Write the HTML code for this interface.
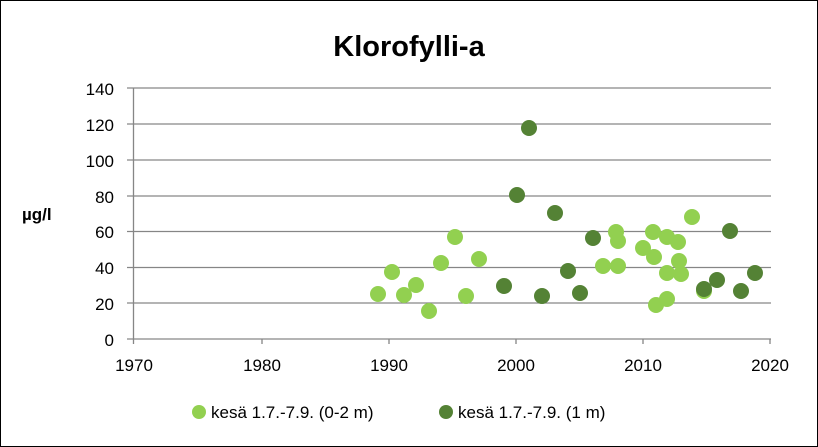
<!DOCTYPE html>
<html><head><style>
body{margin:0;background:#fff;}
svg{display:block;font-family:"Liberation Sans",Arial,sans-serif;}
</style></head><body>
<svg width="818" height="447" viewBox="0 0 818 447">
<rect x="0.5" y="0.5" width="817" height="446" fill="#fff" stroke="#000" stroke-width="1"/>
<text x="409" y="56" font-size="29" font-weight="bold" text-anchor="middle" fill="#000">Klorofylli-a</text>
<g stroke="#868686" stroke-width="1.3">
<line x1="127" x2="771" y1="88" y2="88"/>
<line x1="127" x2="771" y1="124" y2="124"/>
<line x1="127" x2="771" y1="160" y2="160"/>
<line x1="127" x2="771" y1="196" y2="196"/>
<line x1="127" x2="771" y1="231.5" y2="231.5"/>
<line x1="127" x2="771" y1="267.5" y2="267.5"/>
<line x1="127" x2="771" y1="303" y2="303"/>
<line x1="127" x2="771" y1="339" y2="339"/>
<line x1="133.5" x2="133.5" y1="88" y2="344"/>
<line x1="262" x2="262" y1="339" y2="344"/><line x1="389" x2="389" y1="339" y2="344"/><line x1="516" x2="516" y1="339" y2="344"/><line x1="643" x2="643" y1="339" y2="344"/><line x1="770" x2="770" y1="339" y2="344"/>
</g>
<g font-size="17" fill="#000" text-anchor="end">
<text x="114" y="95">140</text><text x="114" y="131">120</text><text x="114" y="167">100</text><text x="114" y="203">80</text><text x="114" y="238">60</text><text x="114" y="274">40</text><text x="114" y="310">20</text><text x="114" y="346">0</text>
</g>
<g font-size="17" fill="#000" text-anchor="middle">
<text x="134" y="371">1970</text><text x="262" y="371">1980</text><text x="389" y="371">1990</text><text x="516" y="371">2000</text><text x="643" y="371">2010</text><text x="770" y="371">2020</text>
</g>
<text x="22" y="220" font-size="17" font-weight="bold">µg/l</text>
<g fill="#92d050">
<circle cx="378" cy="294" r="8"/><circle cx="392" cy="272" r="8"/><circle cx="404" cy="295" r="8"/><circle cx="416" cy="285" r="8"/><circle cx="429" cy="311" r="8"/><circle cx="441" cy="263" r="8"/><circle cx="455" cy="237" r="8"/><circle cx="466" cy="296" r="8"/><circle cx="479" cy="259" r="8"/>
<circle cx="616" cy="232" r="8"/><circle cx="618" cy="241" r="8"/><circle cx="603" cy="266" r="8"/><circle cx="618" cy="266" r="8"/><circle cx="643" cy="248" r="8"/><circle cx="653" cy="232" r="8"/><circle cx="654" cy="257" r="8"/><circle cx="667" cy="237" r="8"/><circle cx="678" cy="242" r="8"/><circle cx="679" cy="261" r="8"/><circle cx="667" cy="273" r="8"/><circle cx="681" cy="274" r="8"/><circle cx="656" cy="305" r="8"/><circle cx="667" cy="299" r="8"/><circle cx="692" cy="217" r="8"/><circle cx="704" cy="291" r="8"/>
</g>
<g fill="#548235">
<circle cx="504" cy="286" r="8"/><circle cx="517" cy="195" r="8"/><circle cx="529" cy="128" r="8"/><circle cx="542" cy="296" r="8"/><circle cx="555" cy="213" r="8"/><circle cx="568" cy="271" r="8"/><circle cx="580" cy="293" r="8"/><circle cx="593" cy="238" r="8"/><circle cx="704" cy="289" r="8"/><circle cx="730" cy="231" r="8"/><circle cx="717" cy="280" r="8"/><circle cx="741" cy="291" r="8"/><circle cx="755" cy="273" r="8"/>
</g>
<circle cx="199" cy="412" r="7" fill="#92d050"/>
<text x="211" y="418" font-size="17">kesä 1.7.-7.9. (0-2 m)</text>
<circle cx="446" cy="412" r="7" fill="#548235"/>
<text x="458" y="418" font-size="17">kesä 1.7.-7.9. (1 m)</text>
</svg>
</body></html>
